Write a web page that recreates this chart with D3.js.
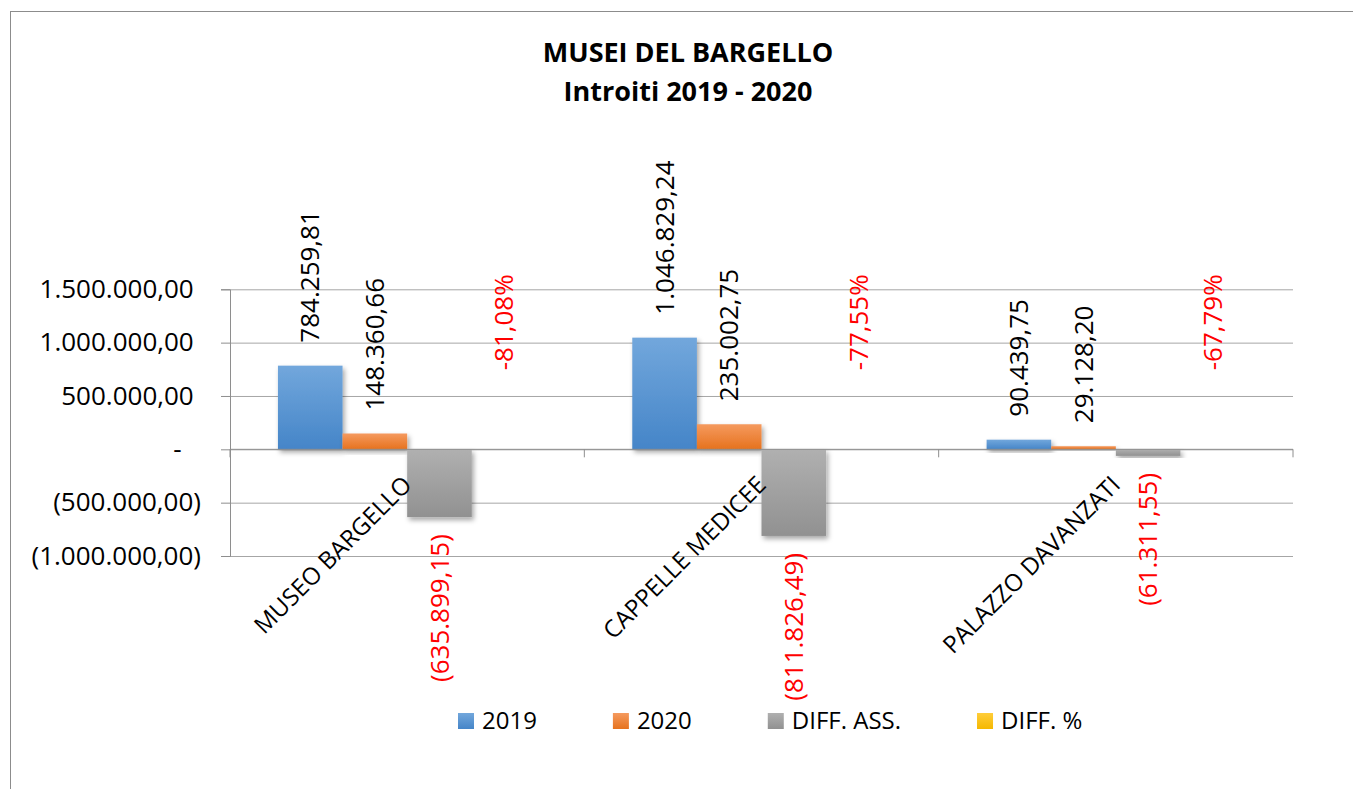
<!DOCTYPE html>
<html>
<head>
<meta charset="utf-8">
<script src="https://cdn.jsdelivr.net/npm/d3@7"></script>
<style>
  body { margin: 0; background: #fff; }
  svg { display: block; font-family: "Open Sans", sans-serif; }
</style>
</head>
<body>
<div id="chart"></div>
<script>
// chart data
const categories = ["MUSEO BARGELLO", "CAPPELLE MEDICEE", "PALAZZO DAVANZATI"];
const seriesNames = ["2019", "2020", "DIFF. ASS.", "DIFF. %"];
const values2019 = [784259.81, 1046829.24, 90439.75];
const values2020 = [148360.66, 235002.75, 29128.20];
const diffAss = [-635899.15, -811826.49, -61311.55];
const diffPct = [-0.8108, -0.7755, -0.6779];
const yTicks = [-1000000, -500000, 0, 500000, 1000000, 1500000];

const W = 1353, H = 789;
const plot = {left: 230, right: 1293, top: 289.3, bottom: 556};

const svg = d3.select("#chart").append("svg")
  .attr("width", W).attr("height", H);

// outer border (runs off right / bottom edge)
svg.append("rect")
  .attr("x", 10.5).attr("y", 11.5)
  .attr("width", 1500).attr("height", 1000)
  .attr("fill", "none").attr("stroke", "#8c8c8c");

// title
svg.append("text").attr("x", 688).attr("y", 62)
  .attr("text-anchor", "middle").attr("font-weight", "bold").attr("font-size", 27)
  .text("MUSEI DEL BARGELLO");
svg.append("text").attr("x", 688).attr("y", 101)
  .attr("text-anchor", "middle").attr("font-weight", "bold").attr("font-size", 27)
  .text("Introiti 2019 - 2020");

const locale = d3.formatLocale({decimal: ",", thousands: ".", grouping: [3], currency: ["", ""], minus: "-"});
const num = locale.format(",.2f");
const pct = locale.format(".2%");
function acct(v) {
  if (v === 0) return "-";
  return v < 0 ? "(" + num(-v) + ")" : num(v);
}

// gradients + shadow
const defs = svg.append("defs");
const colors = [
  ["#72a7dc", "#4585c8"],
  ["#f59a5f", "#e6721d"],
  ["#b0b0b0", "#919191"],
  ["#ffcd3a", "#f5b800"]
];
colors.forEach((c, i) => {
  const g = defs.append("linearGradient").attr("id", "grad" + i)
    .attr("x1", 0).attr("y1", 0).attr("x2", 0).attr("y2", 1);
  g.append("stop").attr("offset", "0%").attr("stop-color", c[0]);
  g.append("stop").attr("offset", "100%").attr("stop-color", c[1]);
});
defs.append("filter").attr("id", "shadow")
  .attr("x", "-20%").attr("y", "-20%").attr("width", "150%").attr("height", "150%")
  .append("feDropShadow")
  .attr("dx", 2).attr("dy", 3).attr("stdDeviation", 2.5)
  .attr("flood-color", "#000").attr("flood-opacity", 0.35);

// scales
const x0 = d3.scaleBand().domain(categories).range([plot.left, plot.right]);
const x1 = d3.scaleBand().domain(seriesNames).range([0, x0.bandwidth()])
  .paddingInner(0).paddingOuter(0.742);
const y = d3.scaleLinear().domain([-1000000, 1500000]).range([plot.bottom, plot.top]);

// gridlines
svg.append("g")
  .attr("transform", `translate(${plot.left},0)`)
  .call(d3.axisLeft(y).tickValues(yTicks).tickSize(-(plot.right - plot.left)).tickFormat(""))
  .call(g => g.select(".domain").remove())
  .call(g => g.selectAll("line").attr("stroke", "#a6a6a6"));

// y axis
svg.append("g")
  .attr("transform", `translate(${plot.left},0)`)
  .call(d3.axisLeft(y).tickValues(yTicks).tickSize(9).tickPadding(20).tickFormat(acct))
  .call(g => g.select(".domain").attr("stroke", "#8e8e8e"))
  .call(g => g.selectAll("line").attr("stroke", "#8e8e8e"))
  .call(g => g.selectAll("text")
    .attr("font-family", "Open Sans, sans-serif")
    .attr("font-size", 26).attr("fill", "#000")
    .attr("dx", d => d === 0 ? "-0.75em" : (d > 0 ? "-0.28em" : 0)));

const rows = categories.map((c, i) => ({
  cat: c,
  vals: [values2019[i], values2020[i], diffAss[i], diffPct[i]]
}));

// bars
const groups = svg.selectAll(".grp").data(rows).enter().append("g")
  .attr("class", "grp")
  .attr("transform", d => `translate(${x0(d.cat)},0)`);

groups.selectAll("rect")
  .data(d => d.vals.map((v, k) => ({v: v, k: k})))
  .enter().append("rect")
  .attr("x", d => x1(seriesNames[d.k]))
  .attr("width", x1.bandwidth())
  .attr("y", d => Math.min(y(d.v), y(0)))
  .attr("height", d => Math.abs(y(d.v) - y(0)))
  .attr("fill", d => `url(#grad${d.k})`)
  .attr("filter", "url(#shadow)");

// category axis at zero
svg.append("line")
  .attr("x1", plot.left).attr("x2", plot.right)
  .attr("y1", y(0)).attr("y2", y(0))
  .attr("stroke", "#8e8e8e");
const bounds = categories.map(c => x0(c)).concat([x0.range()[1]]);
svg.selectAll(".ctick").data(bounds).enter().append("line")
  .attr("x1", d => d).attr("x2", d => d)
  .attr("y1", y(0)).attr("y2", y(0) + 8)
  .attr("stroke", "#8e8e8e");

// category labels
svg.selectAll(".clab").data(categories).enter().append("text")
  .attr("transform", d => `translate(${x0(d) + x0.bandwidth() / 2 + 6},${y(0) + 37}) rotate(-45)`)
  .attr("text-anchor", "end").attr("font-size", 24)
  .text(d => d);

// value labels
groups.selectAll(".vlab")
  .data(d => d.vals.map((v, k) => ({v: v, k: k})))
  .enter().append("text")
  .attr("transform", d => {
    const cx = x1(seriesNames[d.k]) + x1.bandwidth() / 2;
    let yy;
    if (d.k === 2) yy = y(d.v) + 17;
    else if (d.k === 3) yy = y(0) - 79;
    else yy = y(d.v) - 23;
    return `translate(${cx},${yy}) rotate(-90)`;
  })
  .attr("text-anchor", d => d.k === 2 ? "end" : "start")
  .attr("dy", "0.35em")
  .attr("font-size", 26)
  .attr("fill", d => d.k >= 2 ? "#ff0000" : "#000")
  .text(d => d.k === 3 ? pct(d.v) : acct(d.v));

// legend
const legend = svg.append("g").attr("transform", "translate(458,713)");
let lx = 0;
seriesNames.forEach((s, i) => {
  const item = legend.append("g").attr("transform", `translate(${lx},0)`);
  item.append("rect").attr("width", 16).attr("height", 16).attr("fill", `url(#grad${i})`);
  const t = item.append("text").attr("x", 24).attr("y", 15.5)
    .attr("font-size", 24).text(s);
  lx += 24 + t.node().getComputedTextLength() + 76;
});
</script>
</body>
</html>
